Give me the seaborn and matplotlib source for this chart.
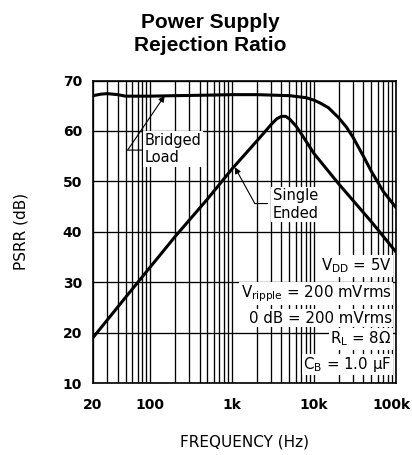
import matplotlib
matplotlib.use("Agg")
import matplotlib.pyplot as plt
import matplotlib.transforms as mtransforms
import seaborn as sns
import pandas as pd

# Curve data (frequency in Hz, PSRR in dB)
freq_bridged = [20, 25, 30, 40, 50, 70, 100, 200, 500, 1000, 2000, 5000, 8000,
                10000, 12000, 15000, 20000, 25000, 30000, 40000, 50000, 70000, 100000]
psrr_bridged = [67.0, 67.3, 67.4, 67.2, 66.9, 66.9, 66.9, 67.0, 67.1, 67.2, 67.2, 67.0, 66.6,
                66.1, 65.5, 64.6, 62.6, 60.7, 58.7, 55.0, 52.0, 48.0, 44.8]

freq_single = [20, 50, 100, 200, 500, 1000, 2000, 2500, 3000, 3500, 4000, 4500, 5000,
               6000, 7000, 10000, 20000, 50000, 100000]
psrr_single = [19.0, 27.0, 33.0, 39.0, 46.5, 52.5, 58.0, 59.8, 61.3, 62.4, 62.9, 62.9, 62.4,
               61.0, 59.4, 55.5, 49.5, 42.0, 36.0]

x_ticks = [20, 100, 1000, 10000, 100000]
x_tick_labels = ["20", "100", "1k", "10k", "100k"]
y_ticks = [10, 20, 30, 40, 50, 60, 70]

conditions = [r"$\mathregular{V_{DD}}$ = 5V",
              r"$\mathregular{V_{ripple}}$ = 200 mVrms",
              "0 dB = 200 mVrms",
              r"$\mathregular{R_L}$ = 8$\mathregular{\Omega}$",
              r"$\mathregular{C_B}$ = 1.0 $\mathregular{\mu}$F"]
condition_y = [32.3, 27.0, 22.0, 17.8, 12.8]

sns.set_theme(style="white")
plt.rcParams["font.family"] = ["DejaVu Sans"]
plt.rcParams["mathtext.default"] = "regular"
plt.rcParams["text.color"] = "black"
plt.rcParams["xtick.color"] = "black"
plt.rcParams["ytick.color"] = "black"

df = pd.concat([
    pd.DataFrame({"freq": freq_bridged, "psrr": psrr_bridged, "curve": "Bridged"}),
    pd.DataFrame({"freq": freq_single, "psrr": psrr_single, "curve": "Single"}),
])

fig = plt.figure(figsize=(4.12, 4.55), dpi=100)
ax = fig.add_axes([0.2257, 0.1582, 0.7354, 0.6648])

sns.lineplot(data=df, x="freq", y="psrr", units="curve", estimator=None,
             color="black", linewidth=2.2, sort=False, ax=ax, zorder=3)

ax.set_xscale("log")
ax.set_xlim(20, 100000)
ax.set_ylim(10, 70)

# log grid: every integer multiple in each decade
grid_x = [m * 10 ** d for d in range(1, 6) for m in range(1, 10)]
for gx in grid_x:
    if 20 <= gx <= 100000:
        ax.axvline(gx, color="black", lw=0.95, zorder=1)
for gy in y_ticks:
    ax.axhline(gy, color="black", lw=0.95, zorder=1)

ax.set_xticks(x_ticks)
ax.set_xticklabels(x_tick_labels)
ax.xaxis.set_minor_locator(matplotlib.ticker.NullLocator())
ax.set_yticks(y_ticks)
ax.tick_params(axis="both", length=0, labelsize=10, colors="black")
ax.tick_params(axis="x", pad=11)
ax.tick_params(axis="y", pad=8)
for lab in ax.get_xticklabels() + ax.get_yticklabels():
    lab.set_fontweight("bold")
# nudge "100k" so it stays inside the figure
last = ax.get_xticklabels()[-1]
last.set_transform(last.get_transform()
                   + mtransforms.ScaledTranslation(-3 / 72, 0, fig.dpi_scale_trans))
for sp in ax.spines.values():
    sp.set_color("black")
    sp.set_linewidth(1.2)

ax.set_xlabel("")
ax.set_ylabel("")
fig.text(245 / 412, 1 - 442 / 455, "FREQUENCY (Hz)", ha="center", va="center", fontsize=11)
fig.text(21 / 412, 1 - 231 / 455, "PSRR (dB)", ha="center", va="center",
         rotation=90, fontsize=11)

fig.text(210 / 412, 1 - 34 / 455, "Power Supply\nRejection Ratio", ha="center", va="center",
         fontsize=15, fontweight="bold", family=["Liberation Sans", "DejaVu Sans"],
         linespacing=1.3)

box = dict(facecolor="white", edgecolor="none", pad=1.0)

# curve labels
ax.text(86, 56.4, "Bridged\nLoad", ha="left", va="center", fontsize=10.5,
        linespacing=1.2, bbox=box, zorder=4)
ax.annotate("", xy=(150, 67.0), xytext=(53, 56.2),
            arrowprops=dict(arrowstyle="-|>", color="black", lw=0.8,
                            mutation_scale=9, shrinkA=0, shrinkB=0), zorder=4)
ax.annotate("", xy=(53, 56.2), xytext=(80, 56.2),
            arrowprops=dict(arrowstyle="-", color="black", lw=0.8,
                            shrinkA=0, shrinkB=0), zorder=4)

ax.text(3130, 45.4, "Single\nEnded", ha="left", va="center", fontsize=10.5,
        linespacing=1.2, bbox=box, zorder=4)
ax.annotate("", xy=(1079, 52.8), xytext=(1892, 45.6),
            arrowprops=dict(arrowstyle="-|>", color="black", lw=0.8,
                            mutation_scale=9, shrinkA=0, shrinkB=0), zorder=4)
ax.annotate("", xy=(1892, 45.6), xytext=(2700, 45.6),
            arrowprops=dict(arrowstyle="-", color="black", lw=0.8,
                            shrinkA=0, shrinkB=0), zorder=4)

# test conditions
for txt, yv in zip(conditions, condition_y):
    ax.text(88500, yv, txt, ha="right", va="baseline", fontsize=10.8,
            bbox=box, zorder=4)

fig.savefig("out.png", dpi=100, facecolor="white")
